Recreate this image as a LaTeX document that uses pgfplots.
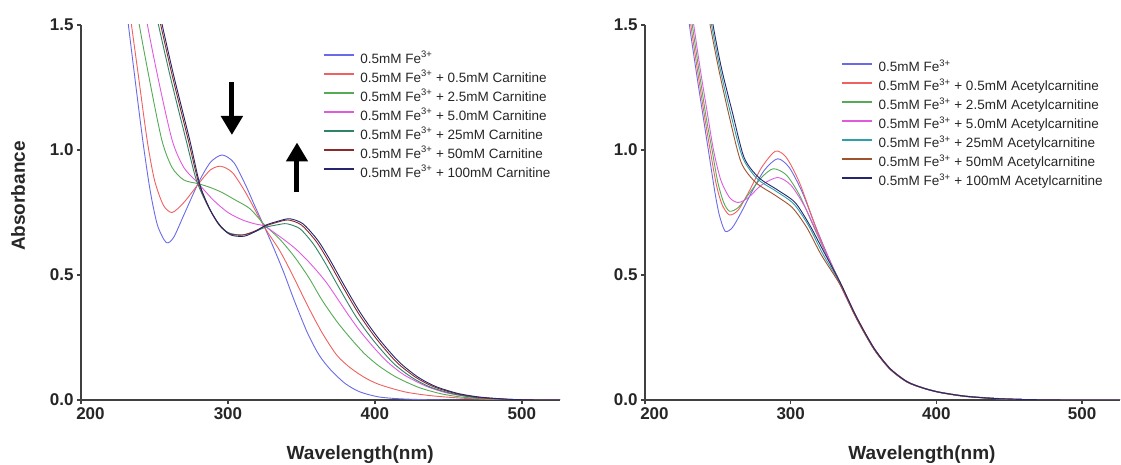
\documentclass[border=0pt]{standalone}
\usepackage{fontspec}
\setmainfont{Liberation Sans}
\usepackage{pgfplots}
\pgfplotsset{compat=1.18}
\usetikzlibrary{arrows.meta}
\definecolor{cA}{HTML}{6A6AE6}
\definecolor{cB}{HTML}{F06060}
\definecolor{cC}{HTML}{55AA55}
\definecolor{cD}{HTML}{E05AE0}
\definecolor{cE}{HTML}{2E8466}
\definecolor{cF}{HTML}{8B2A2A}
\definecolor{cG}{HTML}{26266E}
\definecolor{cEr}{HTML}{2FA0A8}
\definecolor{cFr}{HTML}{A0522D}
\pgfplotsset{
  spec/.style={
    scale only axis, height=375pt,
    xmin=200, xmax=526, ymin=0, ymax=1.5,
    axis x line*=bottom, axis y line*=left,
    axis line style={line width=2pt, black!75, -},
    xtick={200,300,400,500}, xticklabels={\hphantom{00}200,300,400,500},
    ytick={0,0.5,1,1.5},
    yticklabel style={/pgf/number format/.cd, fixed, fixed zerofill, precision=1},
    /pgf/number format/assume math mode=true,
    tick label style={font=\fontsize{17}{17}\selectfont\bfseries, text=black!85},
    tick align=outside, major tick length=4pt,
    tick style={line width=1.5pt, black!75},
    xlabel={Wavelength(nm)},
    xlabel style={font=\fontsize{19}{19}\selectfont\bfseries, text=black!85,
      at={(axis description cs:0.583,0)}, anchor=center, yshift=-55pt},
    legend cell align=left,
    legend image code/.code={\draw[#1, line width=1.5pt] (0pt,4.5pt) -- (30pt,4.5pt); \path (35pt,4.5pt);},
    legend style={draw=none, fill=none, inner sep=0pt, anchor=north west,
      font=\fontsize{13.5}{16}\selectfont, text=black!85, row sep=4pt,
      nodes={inner sep=1pt, text height=10pt, text depth=3pt}},
    every axis plot/.append style={line width=0.9pt, smooth, tension=0.45},
  }
}
\begin{document}
\begin{tikzpicture}
\useasboundingbox (0,0) rectangle (1121pt,465pt);
% ---------------- left panel ----------------
\begin{axis}[spec, width=479pt, at={(81pt,65pt)}, anchor=south west,
  ylabel={Absorbance},
  ylabel style={font=\fontsize{19}{19}\selectfont\bfseries, text=black!85,
    at={(axis description cs:-0.1315,0.544)}, anchor=center},
  legend style={at={(axis description cs:0.505,0.9285)}}]
\addplot[cA] coordinates {(225,1.84)(231,1.56)(236,1.32)(242,1.04)(247,0.84)(252,0.70)(258,0.63)(263,0.65)(270,0.74)(280,0.87)(288,0.95)(296,0.98)(304,0.95)(312,0.86)(318,0.78)(325,0.69)(331,0.61)(338,0.51)(345,0.40)(354,0.27)(362,0.18)(370,0.12)(380,0.065)(390,0.032)(403,0.012)(420,0.004)(450,0)(530,0)};
\addplot[cB] coordinates {(227,1.84)(233,1.56)(239,1.30)(245,1.04)(250,0.88)(256,0.78)(262,0.75)(270,0.79)(280,0.865)(288,0.92)(295,0.935)(303,0.91)(312,0.83)(325,0.69)(335,0.60)(344,0.50)(354,0.38)(364,0.27)(374,0.18)(383,0.13)(393,0.09)(403,0.062)(420,0.033)(437,0.018)(460,0.007)(490,0)(530,0)};
\addplot[cC] coordinates {(232,1.84)(238,1.56)(246,1.30)(255,1.04)(262,0.93)(270,0.88)(280,0.865)(288,0.85)(296,0.83)(305,0.80)(315,0.765)(325,0.70)(335,0.645)(345,0.575)(355,0.49)(364,0.40)(374,0.315)(383,0.25)(393,0.185)(403,0.135)(415,0.09)(430,0.05)(445,0.025)(460,0.011)(480,0.003)(500,0)(530,0)};
\addplot[cD] coordinates {(238,1.84)(243.5,1.56)(252,1.30)(262,1.04)(270,0.93)(280,0.865)(290,0.80)(300,0.75)(310,0.72)(318,0.705)(325,0.695)(335,0.655)(345,0.61)(353,0.565)(360,0.52)(367,0.47)(374,0.41)(382,0.34)(390,0.275)(400,0.205)(409,0.15)(420,0.10)(435,0.055)(450,0.027)(470,0.009)(490,0.002)(510,0)(530,0)};
\addplot[cE] coordinates {(244,1.75)(250.5,1.56)(260.5,1.30)(271.5,1.04)(278.5,0.88)(286,0.78)(293,0.71)(300,0.67)(309,0.66)(317,0.67)(325,0.69)(333,0.70)(340,0.705)(349,0.685)(358,0.625)(366,0.55)(376,0.445)(387,0.335)(399,0.238)(413,0.145)(426,0.087)(438,0.051)(453,0.025)(468,0.01)(488,0.003)(510,0)(530,0)};
\addplot[cF] coordinates {(245,1.75)(252,1.56)(262,1.30)(273,1.04)(280,0.87)(287,0.77)(294,0.70)(301,0.665)(310,0.66)(318,0.675)(325,0.695)(333,0.71)(341,0.72)(350,0.70)(360,0.635)(368,0.56)(378,0.455)(389,0.345)(401,0.245)(415,0.15)(428,0.09)(440,0.053)(455,0.026)(470,0.011)(490,0.003)(510,0)(530,0)};
\addplot[cG] coordinates {(246,1.75)(253,1.56)(263,1.30)(274,1.04)(281,0.86)(288,0.76)(295,0.695)(302,0.66)(311,0.655)(319,0.675)(326,0.70)(334,0.715)(342,0.725)(351,0.705)(361,0.64)(369,0.565)(379,0.46)(390,0.35)(402,0.25)(416,0.155)(429,0.093)(441,0.055)(456,0.027)(471,0.012)(491,0.003)(510,0)(530,0)};
\legend{0.5mM Fe\textsuperscript{3+},
  0.5mM Fe\textsuperscript{3+} + 0.5mM Carnitine,
  0.5mM Fe\textsuperscript{3+} + 2.5mM Carnitine,
  0.5mM Fe\textsuperscript{3+} + 5.0mM Carnitine,
  0.5mM Fe\textsuperscript{3+} + 25mM Carnitine,
  0.5mM Fe\textsuperscript{3+} + 50mM Carnitine,
  0.5mM Fe\textsuperscript{3+} + 100mM Carnitine}
\draw[-{Triangle[width=21pt,length=19pt]}, line width=5pt, black] (axis cs:302.7,1.27) -- (axis cs:302.7,1.06);
\draw[-{Triangle[width=21pt,length=19pt]}, line width=5pt, black] (axis cs:347,0.83) -- (axis cs:347,1.03);
\end{axis}
% ---------------- right panel ----------------
\begin{axis}[spec, width=475pt, at={(645pt,65pt)}, anchor=south west,
  legend style={at={(axis description cs:0.413,0.905)}}]
\addplot[cA] coordinates {(225,1.75)(229,1.56)(235,1.32)(240,1.13)(244,0.98)(248,0.83)(251,0.74)(255,0.675)(260,0.69)(266,0.75)(274,0.84)(282,0.92)(291,0.965)(299,0.93)(308,0.83)(318,0.68)(326,0.57)(334,0.465)(345,0.33)(357,0.206)(368,0.125)(380,0.072)(392,0.046)(403,0.03)(420,0.015)(440,0.006)(460,0.002)(490,0)(530,0)};
\addplot[cB] coordinates {(226,1.75)(230,1.56)(236,1.32)(241,1.13)(245,0.99)(249,0.86)(253,0.78)(258,0.74)(264,0.76)(271,0.83)(280,0.93)(289.5,0.995)(297,0.97)(306,0.87)(316,0.71)(325,0.58)(334,0.47)(345,0.335)(357,0.21)(368,0.128)(380,0.074)(392,0.047)(403,0.031)(420,0.016)(440,0.007)(460,0.002)(490,0)(530,0)};
\addplot[cC] coordinates {(227,1.75)(231,1.56)(237,1.32)(242,1.13)(246,1.0)(250,0.87)(254,0.79)(258,0.755)(264,0.77)(272,0.83)(280,0.89)(288,0.925)(297,0.90)(306,0.82)(316,0.69)(325,0.575)(334,0.465)(345,0.33)(357,0.206)(368,0.125)(380,0.072)(392,0.046)(403,0.03)(420,0.015)(440,0.006)(460,0.002)(490,0)(530,0)};
\addplot[cD] coordinates {(228,1.75)(232,1.56)(238,1.32)(243,1.14)(247,1.0)(252,0.88)(258,0.81)(264,0.79)(271,0.81)(280,0.86)(291,0.89)(300,0.86)(309,0.78)(318,0.67)(326,0.565)(334,0.46)(345,0.328)(357,0.205)(368,0.124)(380,0.071)(392,0.045)(403,0.029)(420,0.014)(440,0.006)(460,0.002)(490,0)(530,0)};
\addplot[cEr] coordinates {(241,1.75)(244,1.56)(251,1.34)(259,1.14)(267,0.97)(277,0.885)(290,0.835)(302,0.785)(312,0.70)(322,0.585)(334,0.465)(345,0.33)(357,0.206)(368,0.125)(380,0.072)(392,0.046)(403,0.03)(420,0.015)(440,0.006)(460,0.002)(490,0)(530,0)};
\addplot[cFr] coordinates {(240,1.75)(243,1.56)(250,1.34)(258,1.13)(266,0.95)(276,0.87)(289,0.82)(301,0.77)(311,0.69)(321,0.58)(334,0.46)(345,0.327)(357,0.204)(368,0.124)(380,0.071)(392,0.045)(403,0.029)(420,0.014)(440,0.006)(460,0.002)(490,0)(530,0)};
\addplot[cG] coordinates {(242,1.75)(245,1.56)(252,1.34)(260,1.15)(268,0.97)(278,0.89)(291,0.84)(303,0.79)(313,0.70)(323,0.59)(334,0.47)(345,0.334)(357,0.209)(368,0.127)(380,0.073)(392,0.046)(403,0.03)(420,0.015)(440,0.006)(460,0.002)(490,0)(530,0)};
\legend{0.5mM Fe\textsuperscript{3+},
  0.5mM Fe\textsuperscript{3+} + 0.5mM Acetylcarnitine,
  0.5mM Fe\textsuperscript{3+} + 2.5mM Acetylcarnitine,
  0.5mM Fe\textsuperscript{3+} + 5.0mM Acetylcarnitine,
  0.5mM Fe\textsuperscript{3+} + 25mM Acetylcarnitine,
  0.5mM Fe\textsuperscript{3+} + 50mM Acetylcarnitine,
  0.5mM Fe\textsuperscript{3+} + 100mM Acetylcarnitine}
\end{axis}
\end{tikzpicture}
\end{document}
